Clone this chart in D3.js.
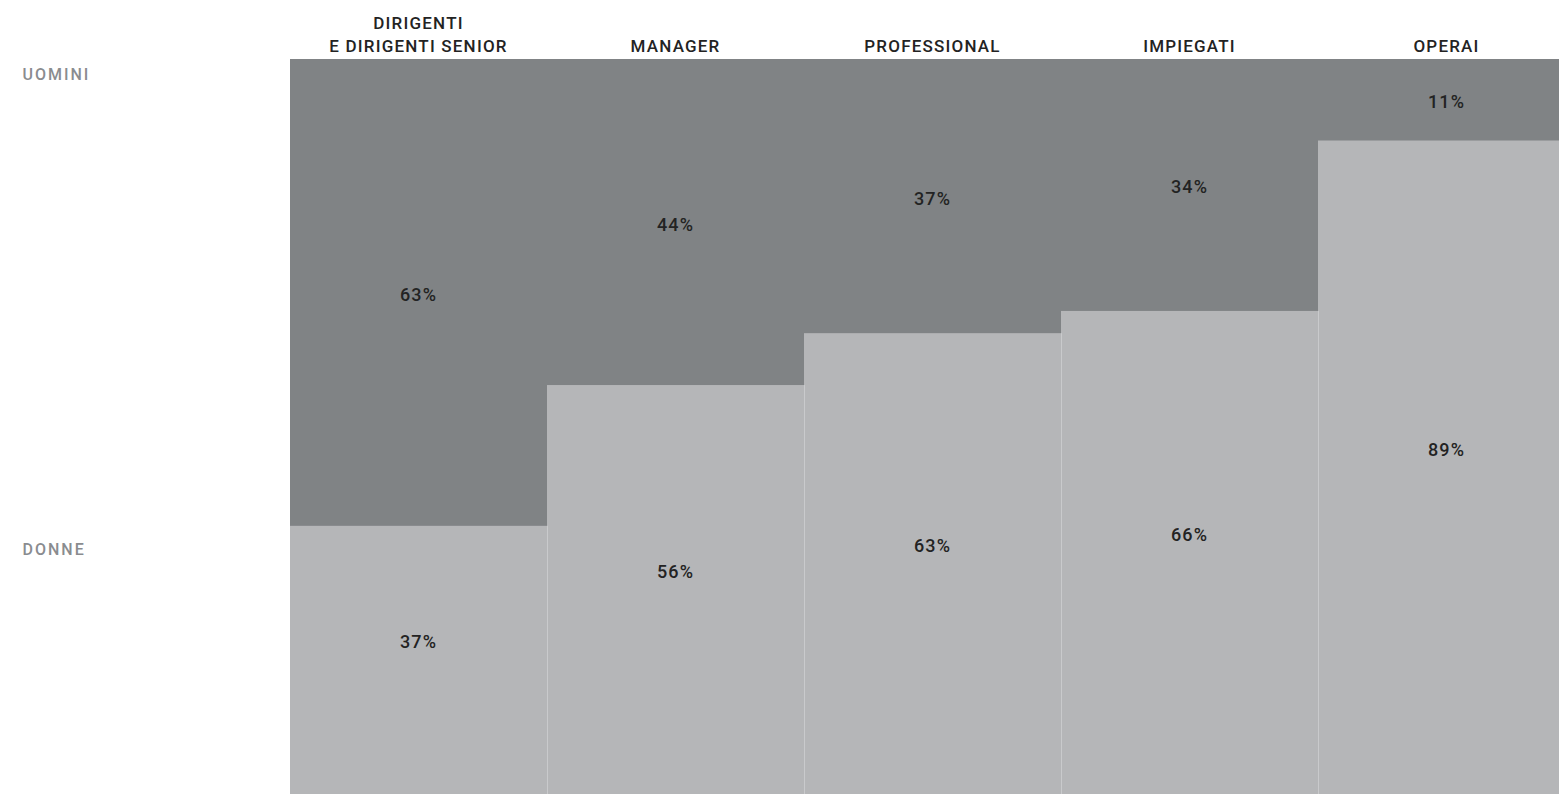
<!DOCTYPE html>
<html>
<head>
<meta charset="utf-8">
<script src="https://cdn.jsdelivr.net/npm/d3@7"></script>
<style>
  html, body { margin: 0; padding: 0; background: #ffffff; overflow: hidden; }
  svg { display: block; }
  text { font-family: "Roboto", "Liberation Sans", sans-serif; }
</style>
</head>
<body>
<svg id="chart" width="1559" height="794"></svg>
<script>
// Quota di uomini e donne per categoria professionale (%)
const categories = ["DIRIGENTI\nE DIRIGENTI SENIOR", "MANAGER", "PROFESSIONAL", "IMPIEGATI", "OPERAI"];
const uomini = [63, 44, 37, 34, 11];
const donne  = [37, 56, 63, 66, 89];
const rowLabels = ["UOMINI", "DONNE"];

const colDark = "#808385";
const colLight = "#b5b6b8";
const colSep = "#c9cacc";
const colText = "#232323";
const colRow = "#8a8c8f";

const svg = d3.select("#chart");

const plotLeft = 290, colW = 257, plotTop = 59, plotBottom = 800;
const x = d3.scaleBand().domain(d3.range(categories.length))
  .range([plotLeft, plotLeft + colW * categories.length]).padding(0);
const y = d3.scaleLinear().domain([0, 100]).range([plotBottom, plotTop]);
const labelFloor = 758; // lower limit used to centre the women's labels

const g = svg.append("g");

// men: full-height dark column
g.selectAll("rect.u").data(uomini).join("rect")
  .attr("class", "u")
  .attr("x", (d, i) => x(i))
  .attr("width", x.bandwidth())
  .attr("y", y(100))
  .attr("height", y(0) - y(100))
  .attr("fill", colDark);

// women: light column from the bottom
g.selectAll("rect.d").data(donne).join("rect")
  .attr("class", "d")
  .attr("x", (d, i) => x(i))
  .attr("width", x.bandwidth())
  .attr("y", d => y(d))
  .attr("height", d => y(0) - y(d))
  .attr("fill", colLight);

// thin separators where two light columns meet
g.selectAll("line.sep").data(donne.slice(1)).join("line")
  .attr("class", "sep")
  .attr("x1", (d, i) => x(i + 1) + 0.5)
  .attr("x2", (d, i) => x(i + 1) + 0.5)
  .attr("y1", (d, i) => y(Math.min(d, donne[i])))
  .attr("y2", y(0))
  .attr("stroke", colSep)
  .attr("stroke-width", 1);

// column headers
const heads = svg.append("g");
categories.forEach((c, i) => {
  const lines = c.split("\n");
  const t = heads.append("text")
    .attr("x", x(i) + x.bandwidth() / 2)
    .attr("text-anchor", "middle")
    .attr("fill", colText)
    .attr("font-size", 17)
    .attr("font-weight", 500)
    .attr("letter-spacing", 1.2);
  lines.forEach((l, k) => {
    t.append("tspan")
      .attr("x", x(i) + x.bandwidth() / 2)
      .attr("y", 51.5 - (lines.length - 1 - k) * 22.7)
      .text(l);
  });
});

// row labels
svg.selectAll("text.row").data(rowLabels).join("text")
  .attr("class", "row")
  .attr("x", 22.5)
  .attr("y", (d, i) => i === 0 ? 79.5 : 555)
  .attr("fill", colRow)
  .attr("font-size", 16)
  .attr("font-weight", 500)
  .attr("letter-spacing", 2)
  .text(d => d);

// value labels
const fmt = d => d + "%";
svg.selectAll("text.vu").data(uomini).join("text")
  .attr("class", "vu")
  .attr("x", (d, i) => x(i) + x.bandwidth() / 2)
  .attr("y", (d, i) => (y(100) + y(donne[i])) / 2 + 2)
  .attr("dy", "0.36em")
  .attr("text-anchor", "middle")
  .attr("fill", colText)
  .attr("font-size", 18)
  .attr("font-weight", 500)
  .attr("letter-spacing", 1.1)
  .text(fmt);

svg.selectAll("text.vd").data(donne).join("text")
  .attr("class", "vd")
  .attr("x", (d, i) => x(i) + x.bandwidth() / 2)
  .attr("y", d => (y(d) + labelFloor) / 2)
  .attr("dy", "0.36em")
  .attr("text-anchor", "middle")
  .attr("fill", colText)
  .attr("font-size", 18)
  .attr("font-weight", 500)
  .attr("letter-spacing", 1.1)
  .text(fmt);
</script>
</body>
</html>
